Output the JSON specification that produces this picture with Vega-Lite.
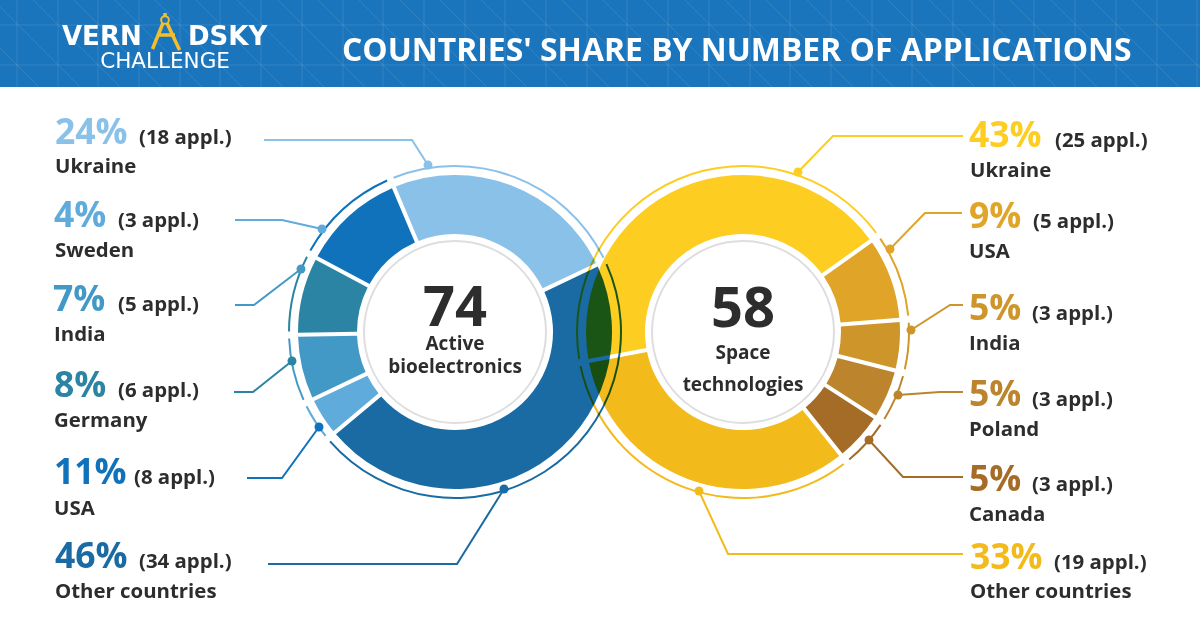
{
"$schema":"https://vega.github.io/schema/vega-lite/v6.json",
"width":1200,"height":630,"padding":0,
"autosize":{"type":"fit","contains":"padding"},
"background":"#ffffff",
"config":{"view":{"stroke":null},"font":"Open Sans"},
"datasets":{
"donut":[
{"topic":"bio","seg":"bio Ukraine","country":"Ukraine","appl":18,"order":1},
{"topic":"bio","seg":"bio Other","country":"Other countries","appl":34,"order":2},
{"topic":"bio","seg":"bio Sweden","country":"Sweden","appl":3,"order":3},
{"topic":"bio","seg":"bio India","country":"India","appl":5,"order":4},
{"topic":"bio","seg":"bio Germany","country":"Germany","appl":6,"order":5},
{"topic":"bio","seg":"bio USA","country":"USA","appl":8,"order":6},
{"topic":"space","seg":"space Ukraine","country":"Ukraine","appl":25,"order":1},
{"topic":"space","seg":"space USA","country":"USA","appl":5,"order":2},
{"topic":"space","seg":"space India","country":"India","appl":3,"order":3},
{"topic":"space","seg":"space Poland","country":"Poland","appl":3,"order":4},
{"topic":"space","seg":"space Canada","country":"Canada","appl":3,"order":5},
{"topic":"space","seg":"space Other","country":"Other countries","appl":19,"order":6}
],
"labels":[
{"seg":"bio Ukraine","pct":"24%","appl":"(18 appl.)","country":"Ukraine","xp":55,"yp":144,"xa":139,"xc":55,"yc":173},
{"seg":"bio Sweden","pct":"4%","appl":"(3 appl.)","country":"Sweden","xp":54,"yp":227,"xa":118,"xc":55,"yc":257},
{"seg":"bio India","pct":"7%","appl":"(5 appl.)","country":"India","xp":53,"yp":311,"xa":118,"xc":54,"yc":341},
{"seg":"bio Germany","pct":"8%","appl":"(6 appl.)","country":"Germany","xp":54,"yp":397,"xa":118,"xc":54,"yc":427},
{"seg":"bio USA","pct":"11%","appl":"(8 appl.)","country":"USA","xp":54,"yp":484,"xa":134,"xc":54,"yc":515},
{"seg":"bio Other","pct":"46%","appl":"(34 appl.)","country":"Other countries","xp":55,"yp":568,"xa":139,"xc":55,"yc":598},
{"seg":"space Ukraine","pct":"43%","appl":"(25 appl.)","country":"Ukraine","xp":969,"yp":147,"xa":1055,"xc":970,"yc":177},
{"seg":"space USA","pct":"9%","appl":"(5 appl.)","country":"USA","xp":969,"yp":228,"xa":1033,"xc":969,"yc":258},
{"seg":"space India","pct":"5%","appl":"(3 appl.)","country":"India","xp":969,"yp":320,"xa":1032,"xc":969,"yc":350},
{"seg":"space Poland","pct":"5%","appl":"(3 appl.)","country":"Poland","xp":969,"yp":406,"xa":1032,"xc":969,"yc":436},
{"seg":"space Canada","pct":"5%","appl":"(3 appl.)","country":"Canada","xp":969,"yp":491,"xa":1032,"xc":969,"yc":521},
{"seg":"space Other","pct":"33%","appl":"(19 appl.)","country":"Other countries","xp":970,"yp":569,"xa":1054,"xc":970,"yc":598}
],
"leaders":[
{"seg":"bio Ukraine","n":1,"x":264,"y":140},{"seg":"bio Ukraine","n":2,"x":412,"y":140},{"seg":"bio Ukraine","n":3,"x":428,"y":165},
{"seg":"bio Sweden","n":1,"x":235,"y":220},{"seg":"bio Sweden","n":2,"x":282,"y":220},{"seg":"bio Sweden","n":3,"x":322,"y":229},
{"seg":"bio India","n":1,"x":235,"y":305},{"seg":"bio India","n":2,"x":254,"y":305},{"seg":"bio India","n":3,"x":301,"y":269},
{"seg":"bio Germany","n":1,"x":234,"y":392},{"seg":"bio Germany","n":2,"x":253,"y":392},{"seg":"bio Germany","n":3,"x":292,"y":361},
{"seg":"bio USA","n":1,"x":247,"y":478},{"seg":"bio USA","n":2,"x":282,"y":478},{"seg":"bio USA","n":3,"x":319,"y":427},
{"seg":"bio Other","n":1,"x":268,"y":564},{"seg":"bio Other","n":2,"x":457,"y":564},{"seg":"bio Other","n":3,"x":504,"y":489},
{"seg":"space Ukraine","n":1,"x":963,"y":136},{"seg":"space Ukraine","n":2,"x":833,"y":136},{"seg":"space Ukraine","n":3,"x":798,"y":172},
{"seg":"space USA","n":1,"x":962,"y":213},{"seg":"space USA","n":2,"x":925,"y":213},{"seg":"space USA","n":3,"x":890,"y":249},
{"seg":"space India","n":1,"x":963,"y":305},{"seg":"space India","n":2,"x":950,"y":305},{"seg":"space India","n":3,"x":911,"y":330},
{"seg":"space Poland","n":1,"x":963,"y":392},{"seg":"space Poland","n":2,"x":940,"y":392},{"seg":"space Poland","n":3,"x":898,"y":395},
{"seg":"space Canada","n":1,"x":963,"y":477},{"seg":"space Canada","n":2,"x":903,"y":477},{"seg":"space Canada","n":3,"x":869,"y":440},
{"seg":"space Other","n":1,"x":963,"y":554},{"seg":"space Other","n":2,"x":728,"y":554},{"seg":"space Other","n":3,"x":699,"y":491}
],
"centers":[
{"total":"74","a":"Active","b":"bioelectronics","cx":455,"cy":332,"yt":326,"ya":350,"yb":373},
{"total":"58","a":"Space","b":"technologies","cx":743,"cy":332,"yt":327,"ya":359,"yb":391}
],
"grid":[
{"x":17,"x2":17,"y":0,"y2":87},{"x":58,"x2":58,"y":0,"y2":87},{"x":98,"x2":98,"y":0,"y2":87},{"x":139,"x2":139,"y":0,"y2":87},{"x":180,"x2":180,"y":0,"y2":87},{"x":220,"x2":220,"y":0,"y2":87},{"x":261,"x2":261,"y":0,"y2":87},{"x":302,"x2":302,"y":0,"y2":87},{"x":343,"x2":343,"y":0,"y2":87},{"x":383,"x2":383,"y":0,"y2":87},{"x":424,"x2":424,"y":0,"y2":87},{"x":465,"x2":465,"y":0,"y2":87},{"x":505,"x2":505,"y":0,"y2":87},{"x":546,"x2":546,"y":0,"y2":87},{"x":587,"x2":587,"y":0,"y2":87},{"x":627,"x2":627,"y":0,"y2":87},{"x":668,"x2":668,"y":0,"y2":87},{"x":709,"x2":709,"y":0,"y2":87},{"x":750,"x2":750,"y":0,"y2":87},{"x":790,"x2":790,"y":0,"y2":87},{"x":831,"x2":831,"y":0,"y2":87},{"x":872,"x2":872,"y":0,"y2":87},{"x":912,"x2":912,"y":0,"y2":87},{"x":953,"x2":953,"y":0,"y2":87},{"x":994,"x2":994,"y":0,"y2":87},{"x":1034,"x2":1034,"y":0,"y2":87},{"x":1075,"x2":1075,"y":0,"y2":87},{"x":1116,"x2":1116,"y":0,"y2":87},{"x":1157,"x2":1157,"y":0,"y2":87},{"x":1197,"x2":1197,"y":0,"y2":87},
{"x":0,"x2":1200,"y":25,"y2":25},{"x":0,"x2":1200,"y":65,"y2":65},
{"x":-48,"x2":39,"y":0,"y2":87},{"x":33,"x2":120,"y":0,"y2":87},{"x":-7,"x2":80,"y":0,"y2":87},{"x":74,"x2":161,"y":0,"y2":87},{"x":115,"x2":202,"y":0,"y2":87},{"x":155,"x2":242,"y":0,"y2":87},{"x":196,"x2":283,"y":0,"y2":87},{"x":237,"x2":324,"y":0,"y2":87},{"x":278,"x2":365,"y":0,"y2":87},{"x":318,"x2":405,"y":0,"y2":87},{"x":359,"x2":446,"y":0,"y2":87},{"x":400,"x2":487,"y":0,"y2":87},{"x":440,"x2":527,"y":0,"y2":87},{"x":481,"x2":568,"y":0,"y2":87},{"x":522,"x2":609,"y":0,"y2":87},{"x":562,"x2":649,"y":0,"y2":87},{"x":603,"x2":690,"y":0,"y2":87},{"x":644,"x2":731,"y":0,"y2":87},{"x":685,"x2":772,"y":0,"y2":87},{"x":725,"x2":812,"y":0,"y2":87},{"x":766,"x2":853,"y":0,"y2":87},{"x":807,"x2":894,"y":0,"y2":87},{"x":847,"x2":934,"y":0,"y2":87},{"x":888,"x2":975,"y":0,"y2":87},{"x":929,"x2":1016,"y":0,"y2":87},{"x":969,"x2":1056,"y":0,"y2":87},{"x":1010,"x2":1097,"y":0,"y2":87},{"x":1051,"x2":1138,"y":0,"y2":87},{"x":1092,"x2":1179,"y":0,"y2":87},{"x":1132,"x2":1219,"y":0,"y2":87}
],
"compass":[
{"part":"left leg","n":1,"x":163,"y":23},{"part":"left leg","n":2,"x":152.5,"y":49},
{"part":"right leg","n":1,"x":167,"y":23},{"part":"right leg","n":2,"x":179.5,"y":50},
{"part":"bar","n":1,"x":157,"y":35},{"part":"bar","n":2,"x":175,"y":35},
{"part":"tip","n":1,"x":165,"y":13},{"part":"tip","n":2,"x":165,"y":16}
],
"header":[{"x":0,"x2":1200,"y":0,"y2":87,"title":"COUNTRIES' SHARE BY NUMBER OF APPLICATIONS"}]
},
"data":{"name":"donut"},
"resolve":{"scale":{"theta":"independent"}},
"layer":[
{"data":{"name":"header"},"mark":{"type":"rect","color":"#1B75BC"},
 "encoding":{"x":{"field":"x","type":"quantitative","axis":null,"scale":{"domain":[0,1200],"nice":false,"zero":false}},"x2":{"field":"x2"},
 "y":{"field":"y","type":"quantitative","axis":null,"scale":{"domain":[0,630],"reverse":true,"nice":false,"zero":false}},"y2":{"field":"y2"}}},
{"data":{"name":"grid"},"mark":{"type":"rule","color":"#ffffff","opacity":0.1,"strokeWidth":1,"clip":true},
 "encoding":{"x":{"field":"x","type":"quantitative"},"x2":{"field":"x2"},"y":{"field":"y","type":"quantitative"},"y2":{"field":"y2"}}},
{"data":{"name":"header"},"mark":{"type":"text","align":"left","baseline":"alphabetic","font":"Open Sans","fontWeight":700,"fontSize":31.9,"color":"#ffffff"},
 "encoding":{"x":{"datum":342,"type":"quantitative"},"y":{"datum":61,"type":"quantitative"},"text":{"field":"title"}}},
{"data":{"values":[{"t":"VERN","px":62},{"t":"DSKY","px":188}]},"mark":{"type":"text","align":"left","baseline":"alphabetic","font":"DejaVu Sans","fontWeight":700,"fontSize":26,"color":"#ffffff"},
 "encoding":{"x":{"field":"px","type":"quantitative"},"y":{"datum":45,"type":"quantitative"},"text":{"field":"t"}}},
{"data":{"values":[{"t":"CHALLENGE"}]},"mark":{"type":"text","align":"center","baseline":"alphabetic","font":"DejaVu Sans","fontSize":21.5,"color":"#ffffff"},
 "encoding":{"x":{"datum":165,"type":"quantitative"},"y":{"datum":68,"type":"quantitative"},"text":{"field":"t"}}},
{"data":{"name":"compass"},"mark":{"type":"line","color":"#F3BE2C","strokeWidth":3.5},
 "encoding":{"x":{"field":"x","type":"quantitative"},"y":{"field":"y","type":"quantitative"},"detail":{"field":"part"},"order":{"field":"n"}}},
{"data":{"values":[{"part":"head"}]},"mark":{"type":"point","filled":false,"size":60,"color":"#F3BE2C","strokeWidth":2,"opacity":1},
 "encoding":{"x":{"datum":165,"type":"quantitative"},"y":{"datum":20,"type":"quantitative"}}},

{"transform":[{"filter":"datum.topic=='bio'"}],
 "mark":{"type":"arc","innerRadius":98,"outerRadius":157,"padAngle":0.022},
 "encoding":{"x":{"datum":455,"type":"quantitative"},"y":{"datum":332,"type":"quantitative"},
 "theta":{"field":"appl","type":"quantitative","stack":true,"scale":{"domain":[0,74],"range":[-0.4,5.883]}},
 "order":{"field":"order"},
 "color":{"field":"seg","type":"nominal","legend":null,"scale":{
  "domain":["bio Ukraine","bio Other","bio Sweden","bio India","bio Germany","bio USA","space Ukraine","space USA","space India","space Poland","space Canada","space Other"],
  "range":["#8AC1E9","#1A6AA3","#5FABDC","#4399C6","#2C84A4","#0F72BA","#FDCD22","#E0A528","#CE962A","#BC842C","#A56C28","#F3BA1B"]}}}},
{"transform":[{"filter":"datum.topic=='bio'"}],
 "mark":{"type":"arc","innerRadius":165,"outerRadius":167,"padAngle":0.03},
 "encoding":{"x":{"datum":455,"type":"quantitative"},"y":{"datum":332,"type":"quantitative"},
 "theta":{"field":"appl","type":"quantitative","stack":true,"scale":{"domain":[0,74],"range":[-0.4,5.883]}},
 "order":{"field":"order"},"color":{"field":"seg","type":"nominal","legend":null}}},
{"transform":[{"filter":"datum.topic=='space'"}],
 "mark":{"type":"arc","innerRadius":98,"outerRadius":157,"padAngle":0.022,"blend":"multiply"},
 "encoding":{"x":{"datum":743,"type":"quantitative"},"y":{"datum":332,"type":"quantitative"},
 "theta":{"field":"appl","type":"quantitative","stack":true,"scale":{"domain":[0,58],"range":[4.527,10.81]}},
 "order":{"field":"order"},"color":{"field":"seg","type":"nominal","legend":null}}},
{"transform":[{"filter":"datum.topic=='space'"}],
 "mark":{"type":"arc","innerRadius":165,"outerRadius":167,"padAngle":0.03,"blend":"multiply"},
 "encoding":{"x":{"datum":743,"type":"quantitative"},"y":{"datum":332,"type":"quantitative"},
 "theta":{"field":"appl","type":"quantitative","stack":true,"scale":{"domain":[0,58],"range":[4.527,10.81]}},
 "order":{"field":"order"},"color":{"field":"seg","type":"nominal","legend":null}}},

{"data":{"name":"centers"},"mark":{"type":"point","filled":false,"size":33124,"color":"#DEDEDE","strokeWidth":2,"opacity":1},
 "encoding":{"x":{"field":"cx","type":"quantitative"},"y":{"field":"cy","type":"quantitative"}}},
{"data":{"name":"centers"},"mark":{"type":"text","align":"center","baseline":"alphabetic","font":"Open Sans","fontWeight":700,"fontSize":56,"color":"#2D2D2D"},
 "encoding":{"x":{"field":"cx","type":"quantitative"},"y":{"field":"yt","type":"quantitative"},"text":{"field":"total"}}},
{"data":{"name":"centers"},"mark":{"type":"text","align":"center","baseline":"alphabetic","font":"Open Sans","fontWeight":700,"fontSize":19,"color":"#2D2D2D"},
 "encoding":{"x":{"field":"cx","type":"quantitative"},"y":{"field":"ya","type":"quantitative"},"text":{"field":"a"}}},
{"data":{"name":"centers"},"mark":{"type":"text","align":"center","baseline":"alphabetic","font":"Open Sans","fontWeight":700,"fontSize":19,"color":"#2D2D2D"},
 "encoding":{"x":{"field":"cx","type":"quantitative"},"y":{"field":"yb","type":"quantitative"},"text":{"field":"b"}}},

{"data":{"name":"leaders"},"mark":{"type":"line","strokeWidth":2,"interpolate":"linear"},
 "encoding":{"x":{"field":"x","type":"quantitative"},"y":{"field":"y","type":"quantitative"},"order":{"field":"n"},"color":{"field":"seg","type":"nominal","legend":null}}},
{"data":{"name":"leaders"},"transform":[{"filter":"datum.n==3"}],"mark":{"type":"point","filled":true,"opacity":1,"size":80},
 "encoding":{"x":{"field":"x","type":"quantitative"},"y":{"field":"y","type":"quantitative"},"color":{"field":"seg","type":"nominal","legend":null}}},

{"data":{"name":"labels"},"mark":{"type":"text","align":"left","baseline":"alphabetic","font":"Open Sans","fontWeight":700,"fontSize":35.5},
 "encoding":{"x":{"field":"xp","type":"quantitative"},"y":{"field":"yp","type":"quantitative"},"text":{"field":"pct"},"color":{"field":"seg","type":"nominal","legend":null}}},
{"data":{"name":"labels"},"mark":{"type":"text","align":"left","baseline":"alphabetic","font":"Open Sans","fontWeight":700,"fontSize":20.4,"color":"#2D2D2D"},
 "encoding":{"x":{"field":"xa","type":"quantitative"},"y":{"field":"yp","type":"quantitative"},"text":{"field":"appl"}}},
{"data":{"name":"labels"},"mark":{"type":"text","align":"left","baseline":"alphabetic","font":"Open Sans","fontWeight":700,"fontSize":20.4,"color":"#2D2D2D"},
 "encoding":{"x":{"field":"xc","type":"quantitative"},"y":{"field":"yc","type":"quantitative"},"text":{"field":"country"}}}
]
}
